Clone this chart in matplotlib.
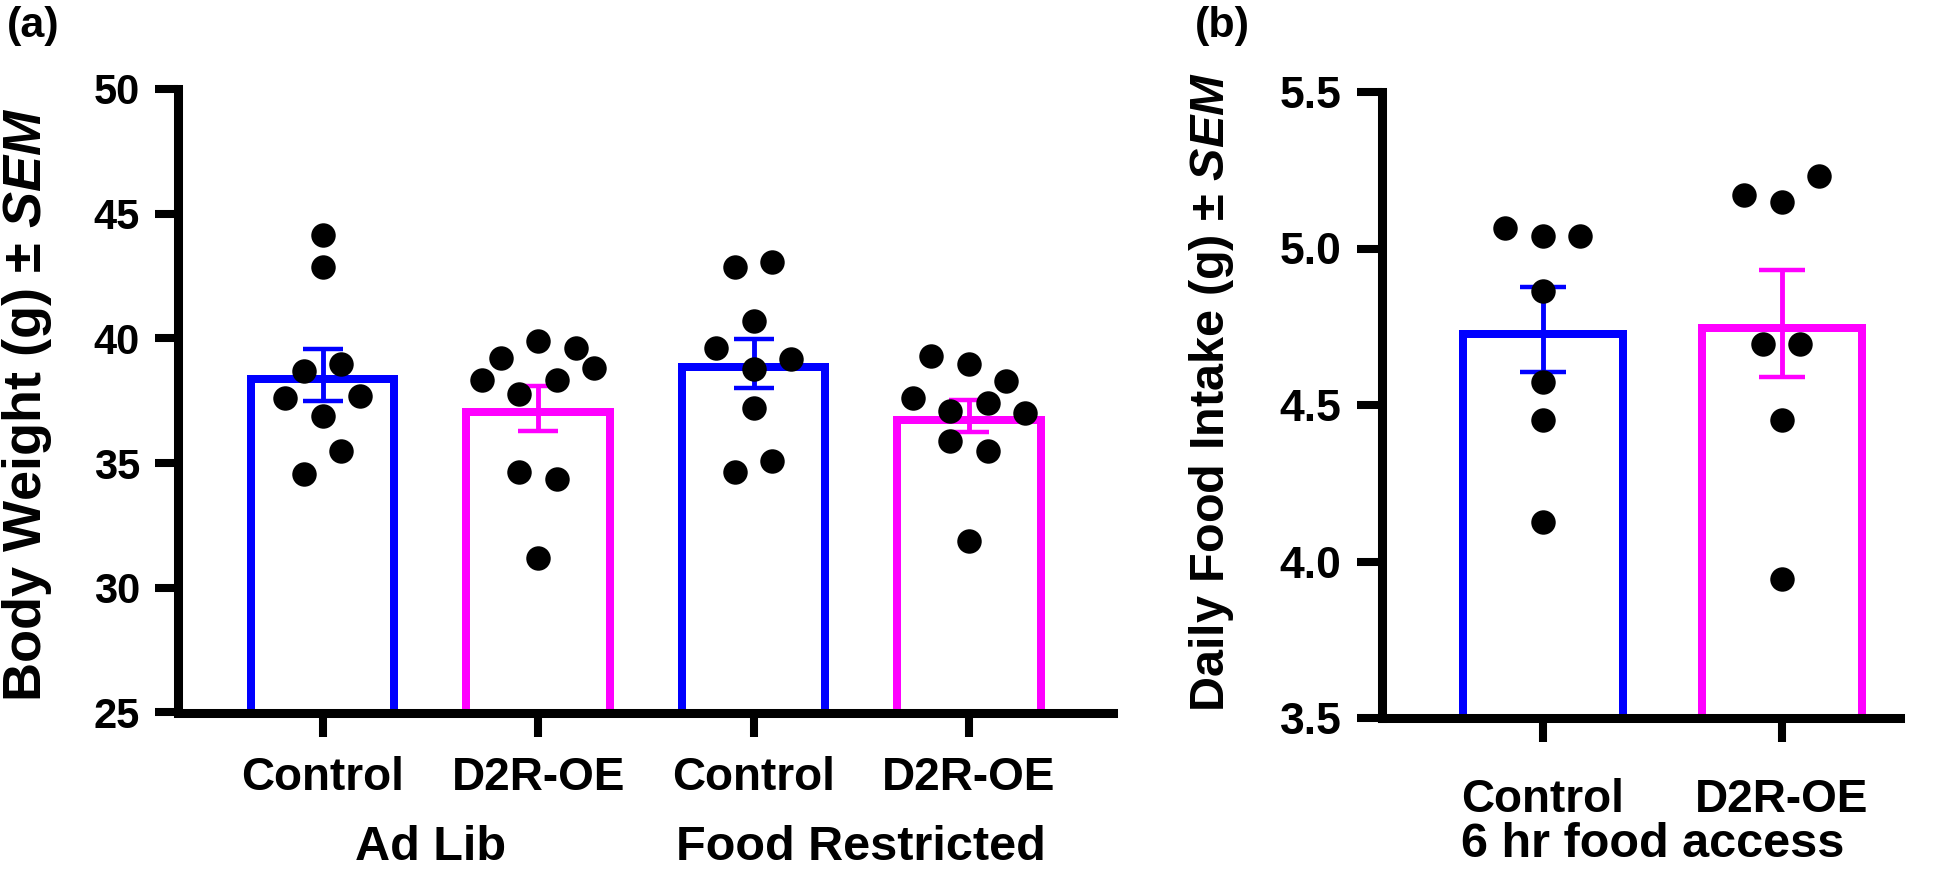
import numpy as np
import matplotlib
matplotlib.use("Agg")
import matplotlib.pyplot as plt
from matplotlib.transforms import blended_transform_factory

# ---------------- data ----------------
categories_a = ["Control", "D2R-OE", "Control", "D2R-OE"]
groups_a = ["Ad Lib", "Food Restricted"]
ctrl_adlib = [44.16, 42.87, 38.69, 38.98, 37.62, 36.89, 37.69, 34.55, 35.48]
d2r_adlib = [39.20, 39.89, 39.62, 38.33, 37.78, 38.33, 38.80, 34.66, 34.38, 31.18]
ctrl_fr = [42.87, 43.07, 40.69, 39.60, 38.78, 39.18, 37.19, 34.66, 35.08]
d2r_fr = [39.29, 38.98, 38.31, 37.62, 37.09, 37.39, 37.02, 35.88, 35.48, 31.88]
means_a = [38.53, 37.20, 39.00, 36.88]
sem_a = [1.06, 0.91, 0.99, 0.65]
yticks_a = [25, 30, 35, 40, 45, 50]

categories_b = ["Control", "D2R-OE"]
group_b = "6 hr food access"
ctrl_6hr = [5.064, 5.041, 5.041, 4.863, 4.575, 4.452, 4.125]
d2r_6hr = [5.171, 5.148, 5.231, 4.696, 4.696, 4.452, 3.943]
means_b = [4.74, 4.76]
sem_b = [0.136, 0.172]
yticks_b = [3.5, 4.0, 4.5, 5.0, 5.5]

BLUE = "#0000FF"
MAGENTA = "#FF00FF"

plt.rcParams["font.family"] = ["Liberation Sans", "DejaVu Sans"]
plt.rcParams["font.weight"] = "bold"
plt.rcParams["mathtext.fontset"] = "custom"
plt.rcParams["mathtext.it"] = "Liberation Sans:italic:bold"
plt.rcParams["mathtext.rm"] = "Liberation Sans:bold"
plt.rcParams["mathtext.bf"] = "Liberation Sans:bold"

DPI = 100
fig = plt.figure(figsize=(19.5, 8.69), dpi=DPI)
W, H = 1950, 869


def px_axes(l, t, r, b):
    return [l / W, 1 - b / H, (r - l) / W, (b - t) / H]


def swarm_offsets(values, px_per_unit, thr_px, spacing_px):
    n = len(values)
    order = sorted(range(n), key=lambda i: -values[i])
    rows, current, first = [], [], None
    for i in order:
        if current and (values[first] - values[i]) * px_per_unit <= thr_px:
            current.append(i)
        else:
            if current:
                rows.append(current)
            current, first = [i], i
    rows.append(current)
    offs = np.zeros(n)
    for row in rows:
        row = sorted(row)
        m = len(row)
        for k, i in enumerate(row):
            offs[i] = (k - (m - 1) / 2) * spacing_px
    return offs


def draw_panel(ax, point_sets, means, sems, colors, xlim, ylim, yticks,
               fmt, ytick_size, xtick_pad, capsize, ylen):
    ax.set_xlim(*xlim)
    ax.set_ylim(*ylim)
    p0 = ax.transData.transform((0, ylim[0]))
    p1 = ax.transData.transform((1, ylim[0] + 1))
    px_x = p1[0] - p0[0]
    px_y = p1[1] - p0[1]
    lw_px = 8.0
    lw_pt = lw_px * 72 / DPI
    outer_w = 0.703
    ix = lw_px / 2 / px_x
    iy = lw_px / 2 / px_y
    xs = np.arange(len(means))
    for i, (m, c) in enumerate(zip(means, colors)):
        ax.bar(xs[i], m - ylim[0] - iy, bottom=ylim[0], width=outer_w - 2 * ix,
               facecolor="white", edgecolor=c, linewidth=lw_pt, zorder=1)
        ax.errorbar(xs[i], m, yerr=sems[i], fmt="none", ecolor=c,
                    elinewidth=3.5, capsize=capsize, capthick=3.2, zorder=3)
    for i, vals in enumerate(point_sets):
        offs = swarm_offsets(vals, px_y, 26.5, 37.5) / px_x
        ax.scatter(xs[i] + offs, vals, s=310, color="black", zorder=4,
                   linewidths=0, clip_on=False)
    for s in ["top", "right"]:
        ax.spines[s].set_visible(False)
    for s in ["left", "bottom"]:
        ax.spines[s].set_linewidth(6.5)
        ax.spines[s].set_color("black")
    ax.set_yticks(yticks)
    ax.set_yticklabels([fmt.format(v) for v in yticks])
    ax.tick_params(axis="y", length=ylen, width=5.8, pad=11, labelsize=ytick_size,
                   color="black")
    ax.tick_params(axis="x", length=17, width=5.8, pad=xtick_pad, labelsize=33,
                   color="black")


# ---------------- panel (a) ----------------
ax_a = fig.add_axes(px_axes(178, 89, 1113, 712.5))
draw_panel(ax_a, [ctrl_adlib, d2r_adlib, ctrl_fr, d2r_fr], means_a, sem_a,
           [BLUE, MAGENTA, BLUE, MAGENTA], (-0.672, 3.669), (25, 50), yticks_a,
           "{:d}", 30, 14, 14.5, 16.5)
ax_a.set_xticks(np.arange(len(categories_a)))
ax_a.set_xticklabels(categories_a)
tr_a = blended_transform_factory(ax_a.transData, fig.transFigure)
ax_a.text(0.5, 1 - 860 / H, groups_a[0], transform=tr_a, ha="center",
          va="baseline", fontsize=35)
ax_a.text(2.5, 1 - 860 / H, groups_a[1], transform=tr_a, ha="center",
          va="baseline", fontsize=35)
fig.text(27 / W, 1 - 405 / H, r"Body Weight (g) ± $\mathit{SEM}$",
         rotation=90, ha="center", va="center", fontsize=39)
fig.text(7 / W, 1 - 6 / H, "(a)", ha="left", va="top", fontsize=31)

# ---------------- panel (b) ----------------
ax_b = fig.add_axes(px_axes(1382, 92, 1900, 718))
draw_panel(ax_b, [ctrl_6hr, d2r_6hr], means_b, sem_b, [BLUE, MAGENTA],
           (-0.672, 1.495), (3.5, 5.5), yticks_b, "{:.1f}", 32, 26, 16.5, 18)
ax_b.set_xticks(np.arange(len(categories_b)))
ax_b.set_xticklabels(categories_b)
tr_b = blended_transform_factory(ax_b.transData, fig.transFigure)
ax_b.text(0.46, 1 - 857 / H, group_b, transform=tr_b, ha="center",
          va="baseline", fontsize=35)
fig.text(1211 / W, 1 - 392 / H, r"Daily Food Intake (g) ± $\mathit{SEM}$",
         rotation=90, ha="center", va="center", fontsize=35)
fig.text(1195 / W, 1 - 6 / H, "(b)", ha="left", va="top", fontsize=31)

fig.savefig("out.png", dpi=DPI, facecolor="white")
